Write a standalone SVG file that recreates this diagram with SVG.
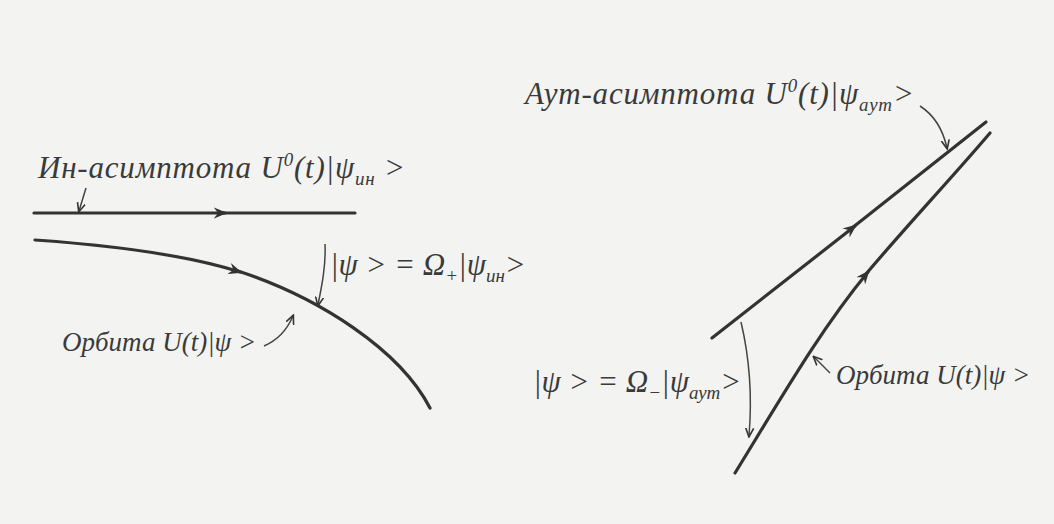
<svg xmlns="http://www.w3.org/2000/svg" width="1054" height="524" viewBox="0 0 1054 524">
<defs>
<marker id="ah" viewBox="0 0 10 10" refX="8" refY="5" markerWidth="10" markerHeight="10" markerUnits="userSpaceOnUse" orient="auto"><path d="M0,1 L9,5 L0,9" fill="none" stroke="#333" stroke-width="1.6"/></marker>
<marker id="mid" viewBox="0 0 14 10" refX="10" refY="5" markerWidth="16" markerHeight="12" markerUnits="userSpaceOnUse" orient="auto"><path d="M0,0 L12,5 L0,10 L4,5 Z" fill="#333"/></marker>
</defs>
<style>
.t{font-family:"Liberation Serif","DejaVu Serif",serif;font-style:italic;font-size:31px;fill:#3a3a3a}
.w{letter-spacing:0.8px}
.o{font-size:27px}
.s{font-size:19px}
.ln{fill:none;stroke:#333;stroke-width:3.2;stroke-linecap:round}
.th{fill:none;stroke:#444;stroke-width:1.5}
</style>
<rect width="1054" height="524" fill="#f3f3f1"/>
<g id="connectors">
<path class="ln" d="M34,213 L225,213" marker-end="url(#mid)"/>
<path class="ln" d="M222,213 L355,213"/>
<path class="ln" d="M35,240 C120,246 190,256 240,272" marker-end="url(#mid)"/>
<path class="ln" d="M238,271 C320,298 400,350 430,408"/>
<path class="ln" d="M712,338 L855,226" marker-end="url(#mid)"/>
<path class="ln" d="M852,228 L986,122"/>
<path class="ln" d="M735,473 C780,400 820,330 868,272" marker-end="url(#mid)"/>
<path class="ln" d="M866,274 C910,222 950,180 990,133"/>
<path class="th" d="M86,188 L79,211" marker-end="url(#ah)"/>
<path class="th" d="M325,244 C326,265 322,285 318,305" marker-end="url(#ah)"/>
<path class="th" d="M264,346 C278,340 287,330 293,316" marker-end="url(#ah)"/>
<path class="th" d="M920,106 C934,115 943,130 947,148" marker-end="url(#ah)"/>
<path class="th" d="M741,322 C750,360 752,400 749,436" marker-end="url(#ah)"/>
<path class="th" d="M830,373 L814,357" marker-end="url(#ah)"/>
</g>
<g id="in-label"><text class="t w" x="38" y="178">Ин-асимптота U<tspan class="s" dy="-12">0</tspan><tspan dy="12">(t)|ψ</tspan><tspan class="s" dy="7">ин</tspan><tspan dy="-7"> &gt;</tspan></text></g>
<g id="omega-plus"><text class="t" x="330" y="275">|ψ &gt; = Ω<tspan class="s" dy="7">+</tspan><tspan dy="-7">|ψ</tspan><tspan class="s" dy="7">ин</tspan><tspan dy="-7">&gt;</tspan></text></g>
<g id="orbit-left"><text class="t o" x="62" y="351">Орбита U(t)|ψ &gt;</text></g>
<g id="out-label"><text class="t w" x="525" y="104">Аут-асимптота U<tspan class="s" dy="-12">0</tspan><tspan dy="12">(t)|ψ</tspan><tspan class="s" dy="7">аут</tspan><tspan dy="-7">&gt;</tspan></text></g>
<g id="omega-minus"><text class="t" x="533" y="392">|ψ &gt; = Ω<tspan class="s" dy="7">−</tspan><tspan dy="-7">|ψ</tspan><tspan class="s" dy="7">аут</tspan><tspan dy="-7">&gt;</tspan></text></g>
<g id="orbit-right"><text class="t o" x="836" y="384">Орбита U(t)|ψ &gt;</text></g>
</svg>
